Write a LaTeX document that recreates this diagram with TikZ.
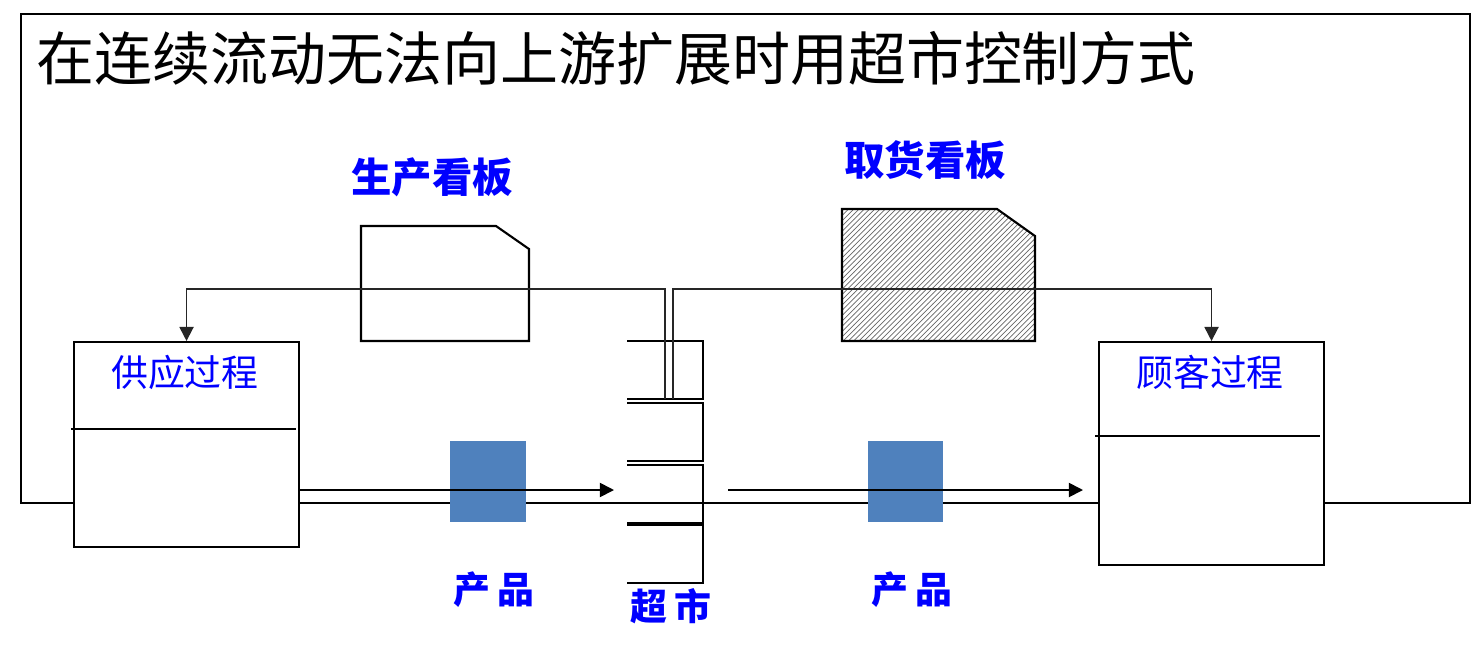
\documentclass[tikz,border=0pt]{standalone}
\usepackage{fontspec}
\newfontfamily\cjk{Noto Sans CJK SC}
\usetikzlibrary{patterns,arrows.meta}
\definecolor{partblue}{RGB}{79,129,189}

\begin{document}
\begin{tikzpicture}[x=0.02cm,y=-0.02cm,
    frame/.style={line width=1.2pt},
    process/.style={draw,line width=1.2pt,fill=white,minimum width=4.5cm,anchor=north west,inner sep=0pt},
    proclabel/.style={text=blue,font=\cjk\fontsize{21}{21}\selectfont,inner sep=0pt},
    tag/.style={text=blue,font=\cjk\bfseries\fontsize{21}{21}\selectfont,inner sep=0pt},
    cardlabel/.style={tag,font=\cjk\bfseries\fontsize{23}{23}\selectfont},
    part/.style={fill=partblue,minimum width=1.52cm,minimum height=1.62cm,inner sep=0pt},
    flow/.style={line width=1pt,-{Triangle[length=8pt,width=8pt]}},
    kanban/.style={line width=1pt,draw=black!85,-{Triangle[length=8pt,width=8pt]}}]
    \useasboundingbox (0,0) rectangle (1472,657);
    % outer frame and title
    \draw[frame] (21,14) rectangle (1470,503);
    \node[anchor=west,inner sep=0pt,font=\cjk\fontsize{33}{33}\selectfont] (title) at (36,58) {在连续流动无法向上游扩展时用超市控制方式};
    % products
    \node[part] (part1) at (488,481.5) {};
    \node[part] (part2) at (905.5,481.5) {};
    \node[tag] (partlbl1) at (494,590) {产\kern4pt品};
    \node[tag] (partlbl2) at (912,590) {产\kern4pt品};
    % processes
    \node[process,minimum height=4.1cm] (supplier) at (73,341) {};
    \node[process,minimum height=4.46cm] (customer) at (1098,341) {};
    \draw[frame] (71,429) -- (296,429);
    \draw[frame] (1095,436) -- (1320,436);
    \node[proclabel] (supplierlbl) at (185,372) {供应过程};
    \node[proclabel] (customerlbl) at (1210,372) {顾客过程};
    % supermarket
    \foreach \t/\b in {341/399,403/461,465/524,524/583}
        \draw[frame] (627,\t) -| (703,\b) -- (627,\b);
    \draw[line width=2.2pt] (627,524) -- (703,524);
    \node[tag] (market) at (671,606) {超\kern4pt市};
    \coordinate (in1) at (614,490);
    \coordinate (out1) at (728,490);
    \draw[flow] (supplier.east |- in1) -- (in1);
    \draw[flow,shorten >=0.3cm] (out1) -- (customer.west |- out1);
    % kanban cards
    \draw[frame,fill=white] (361,226) -- (496,226) -- (529,249) -- (529,341) -- (361,341) -- cycle;
    \draw[frame,pattern=north east lines,pattern color=black!60] (842,209) -- (997,209) -- (1035,236) -- (1035,341) -- (842,341) -- cycle;
    \node[cardlabel] (prodlbl) at (432,177) {生产看板};
    \node[cardlabel] (pulllbl) at (925,160) {取货看板};
    % kanban loops
    \coordinate (loop) at (0,289);
    \coordinate (pk) at (665,399);
    \coordinate (wk) at (673,399);
    \draw[kanban] (pk) -- (pk |- loop) -| (supplier.north);
    \draw[kanban] (wk) -- (wk |- loop) -| (customer.north);
\end{tikzpicture}
\end{document}
